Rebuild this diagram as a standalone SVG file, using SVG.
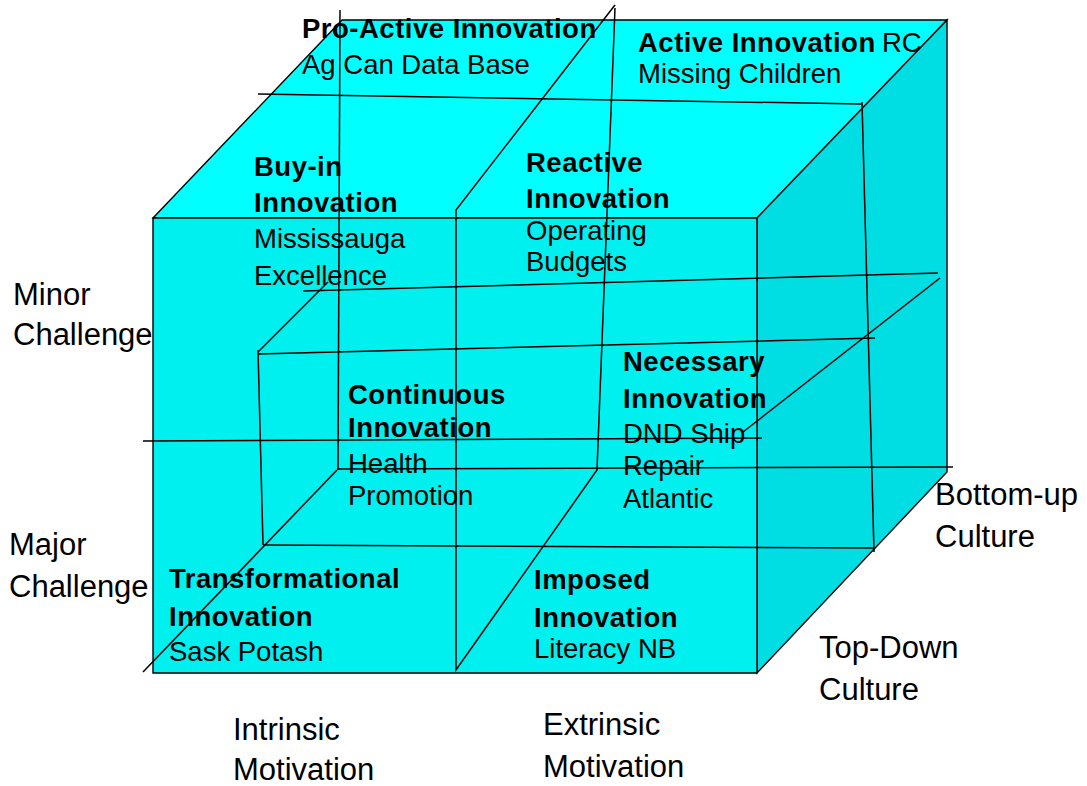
<svg xmlns="http://www.w3.org/2000/svg" width="1087" height="786" viewBox="0 0 1087 786">
<style>
text{font-family:"Liberation Sans",Arial,sans-serif;fill:#000}
.r{font-size:27.5px}
.b{font-size:27.5px;font-weight:bold;letter-spacing:0.5px}
.o{font-size:31px}
.edge{stroke:#000;stroke-width:1.4;stroke-linejoin:miter}
.ln{fill:none;stroke:#000;stroke-width:1.5}
</style>
<rect width="1087" height="786" fill="#fff"/>
<g id="cube">
<polygon class="edge" fill="#00FFFF" points="153,218 342,20 947,20 757,218"/>
<polygon class="edge" fill="#00DDE3" points="757,218 947,20 947,472 757,673"/>
<polygon class="edge" fill="#00EFEF" points="153,218 757,218 757,673 153,673"/>
</g>
<g id="proactive">
<text class="b" x="302" y="38">Pro-Active Innovation</text>
<text class="r" x="302" y="74">Ag Can Data Base</text>
</g>
<g id="active">
<text x="638" y="52"><tspan class="b">Active Innovation</tspan><tspan class="r" x="882">RC</tspan></text>
<text class="r" x="638" y="83">Missing Children</text>
</g>
<g id="buyin">
<text class="b" x="254" y="176">Buy-in</text>
<text class="b" x="254" y="212">Innovation</text>
<text class="r" x="254" y="248">Mississauga</text>
<text class="r" x="254" y="285">Excellence</text>
</g>
<g id="reactive">
<text class="b" x="526" y="172">Reactive</text>
<text class="b" x="526" y="208">Innovation</text>
<text class="r" x="526" y="240">Operating</text>
<text class="r" x="526" y="271">Budgets</text>
</g>
<g id="continuous">
<text class="b" x="348" y="404">Continuous</text>
<text class="b" x="348" y="437">Innovation</text>
<text class="r" x="348" y="473">Health</text>
<text class="r" x="348" y="505">Promotion</text>
</g>
<g id="necessary">
<text class="b" x="623" y="371">Necessary</text>
<text class="b" x="623" y="408">Innovation</text>
<text class="r" x="623" y="443">DND Ship</text>
<text class="r" x="623" y="475">Repair</text>
<text class="r" x="623" y="508">Atlantic</text>
</g>
<g id="transformational">
<text class="b" x="169" y="588">Transformational</text>
<text class="b" x="169" y="626">Innovation</text>
<text class="r" x="169" y="661">Sask Potash</text>
</g>
<g id="imposed">
<text class="b" x="534" y="589">Imposed</text>
<text class="b" x="534" y="627">Innovation</text>
<text class="r" x="534" y="658">Literacy NB</text>
</g>
<g id="minor-challenge">
<text class="o" x="13" y="305">Minor</text>
<text class="o" x="13" y="345">Challenge</text>
</g>
<g id="major-challenge">
<text class="o" x="9" y="555">Major</text>
<text class="o" x="9" y="597">Challenge</text>
</g>
<g id="intrinsic">
<text class="o" x="233" y="740">Intrinsic</text>
<text class="o" x="233" y="780">Motivation</text>
</g>
<g id="extrinsic">
<text class="o" x="543" y="735">Extrinsic</text>
<text class="o" x="543" y="777">Motivation</text>
</g>
<g id="bottom-up">
<text class="o" x="935" y="505">Bottom-up</text>
<text class="o" x="935" y="547">Culture</text>
</g>
<g id="top-down">
<text class="o" x="819" y="658">Top-Down</text>
<text class="o" x="819" y="700">Culture</text>
</g>
<g id="connectors">
<line class="ln" x1="340" y1="10" x2="338" y2="470"/>
<polyline class="ln" points="615,5 456,210 456,670 597,470 615,8"/>
<line class="ln" x1="258" y1="94" x2="862" y2="104"/>
<line class="ln" x1="862" y1="102" x2="874" y2="552"/>
<line class="ln" x1="940" y1="278" x2="743" y2="432"/>
<line class="ln" x1="303" y1="291" x2="938" y2="273"/>
<line class="ln" x1="328" y1="282" x2="258" y2="352"/>
<line class="ln" x1="258" y1="354" x2="875" y2="338"/>
<line class="ln" x1="258" y1="350" x2="263" y2="545"/>
<line class="ln" x1="263" y1="545" x2="874" y2="548"/>
<line class="ln" x1="143" y1="441" x2="762" y2="438"/>
<line class="ln" x1="337" y1="469" x2="953" y2="467"/>
<line class="ln" x1="337" y1="470" x2="143" y2="672"/>
</g>
</svg>
